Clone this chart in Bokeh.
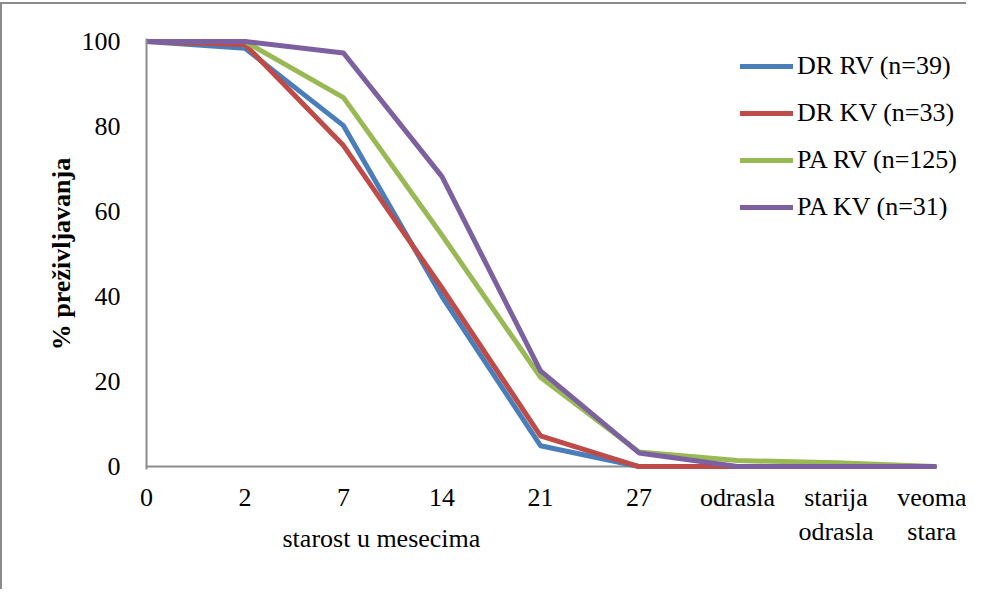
from bokeh.plotting import figure
from bokeh.models import Legend, LegendItem, FixedTicker, Range1d, Title
from bokeh.embed import file_html
from bokeh.resources import INLINE

categories = ["0", "2", "7", "14", "21", "27", "odrasla", "starija\nodrasla", "veoma\nstara"]
dr_rv = [100, 98.4, 80.2, 40, 4.9, 0, 0, 0, 0]
dr_kv = [100, 99.3, 75.5, 42, 7.2, 0, 0, 0, 0]
pa_rv = [100, 100, 86.8, 54.4, 21, 3.4, 1.4, 0.9, 0]
pa_kv = [100, 100, 97.3, 68.2, 22.5, 3.2, 0, 0, 0]
series_names = ["DR RV (n=39)", "DR KV (n=33)", "PA RV (n=125)", "PA KV (n=31)"]
series_colors = ["#4A7EBB", "#BE4B48", "#98B954", "#7D60A0"]
y_ticks = [0, 20, 40, 60, 80, 100]

FONT = "Liberation Serif"
AXIS_GRAY = "#8c8c8c"
x = list(range(len(categories)))

p = figure(width=966, height=587, output_backend="svg", toolbar_location=None,
           x_range=Range1d(0, 8.325), y_range=Range1d(-0.7, 100.7))
p.styles = {"border-left": "2px solid #8a8a8a", "border-top": "2px solid #8a8a8a",
            "margin-top": "2px"}
p.min_border_left = 144
p.min_border_top = 34
p.min_border_right = 2
p.min_border_bottom = 122
p.outline_line_color = None
p.background_fill_color = "white"
p.border_fill_color = "white"
p.grid.visible = False

# horizontal category axis line, spanning the categories only
p.segment(x0=[x[0]], y0=[y_ticks[0]], x1=[x[-1]], y1=[y_ticks[0]],
          line_color=AXIS_GRAY, line_width=2)

renderers = []
for vals, col in zip([dr_rv, dr_kv, pa_rv, pa_kv], series_colors):
    r = p.line(x, vals, line_color=col, line_width=5, line_join="round", line_cap="round")
    renderers.append(r)

xa = p.xaxis[0]
xa.ticker = FixedTicker(ticks=x)
xa.major_label_overrides = {i: c for i, c in enumerate(categories)}
xa.major_tick_line_color = None
xa.minor_tick_line_color = None
xa.axis_line_color = None
xa.major_label_text_font = FONT
xa.major_label_text_font_size = "26px"
xa.major_label_text_color = "black"
xa.major_label_standoff = 7

ya = p.yaxis[0]
ya.ticker = FixedTicker(ticks=y_ticks)
ya.major_tick_line_color = None
ya.minor_tick_line_color = None
ya.axis_line_color = AXIS_GRAY
ya.axis_line_width = 2
ya.major_label_text_font = FONT
ya.major_label_text_font_size = "26px"
ya.major_label_text_color = "black"
ya.major_label_standoff = 20
ya.axis_label = "% preživljavanja"
ya.axis_label_text_font = FONT
ya.axis_label_text_font_size = "26px"
ya.axis_label_text_font_style = "bold"
ya.axis_label_text_color = "black"
ya.axis_label_standoff = 3

xtitle = Title(text="starost u mesecima", align="left", vertical_align="top",
               offset=136, standoff=-52,
               text_font=FONT, text_font_size="26px", text_font_style="normal",
               text_color="black")
p.add_layout(xtitle, "below")

legend = Legend(items=[LegendItem(label=n, renderers=[r]) for n, r in zip(series_names, renderers)],
                location=(594, 247), padding=0, margin=0, spacing=17,
                glyph_width=53, glyph_height=30, label_height=30, label_standoff=4,
                border_line_color=None, background_fill_alpha=0,
                label_text_font=FONT, label_text_font_size="26px", label_text_color="black")
p.add_layout(legend)

open("out.html", "w").write(file_html(p, INLINE))
